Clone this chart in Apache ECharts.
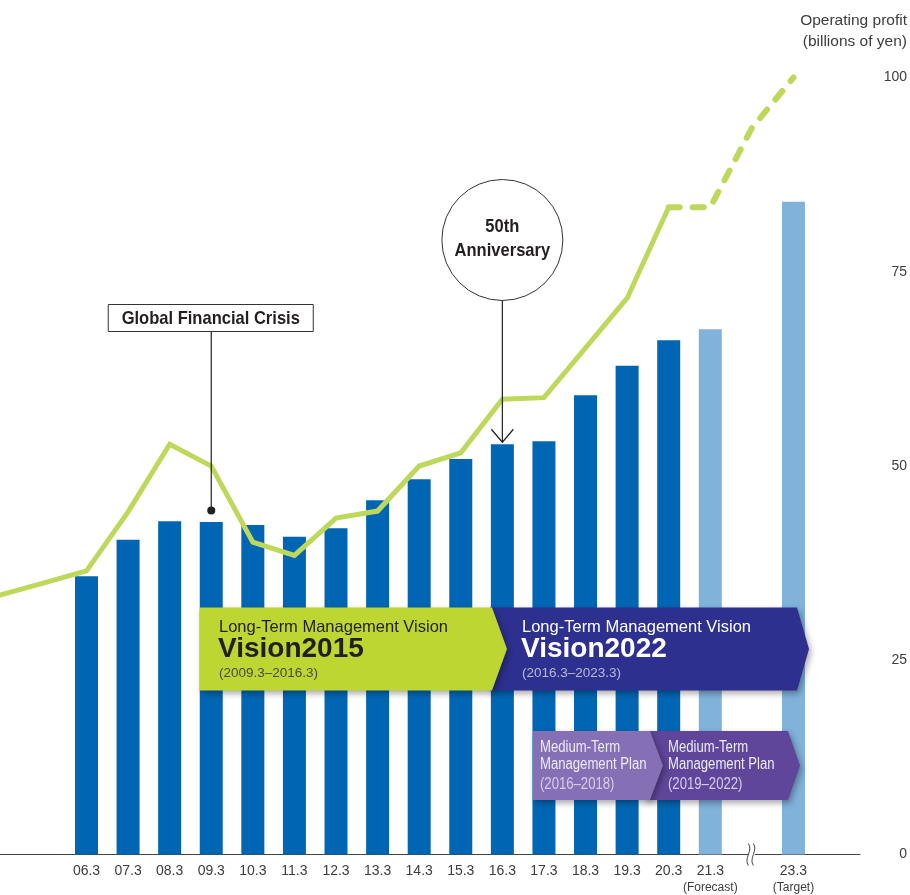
<!DOCTYPE html>
<html>
<head>
<meta charset="utf-8">
<script src="https://cdn.jsdelivr.net/npm/echarts@6/dist/echarts.min.js"></script>
<style>
  html, body { margin: 0; padding: 0; background: #ffffff; }
  #chart { width: 910px; height: 895px; }
</style>
</head>
<body>
<div id="chart"></div>
<script>
// Fiscal years ending in March; 06.3 sits at position 6 on the x axis, 22.3 is skipped
const years = [6, 7, 8, 9, 10, 11, 12, 13, 14, 15, 16, 17, 18, 19, 20, 21, 23];
const yearLabels = ['06.3', '07.3', '08.3', '09.3', '10.3', '11.3', '12.3', '13.3', '14.3',
                    '15.3', '16.3', '17.3', '18.3', '19.3', '20.3', '21.3', '23.3'];
const yearNotes = ['', '', '', '', '', '', '', '', '', '', '', '', '', '', '', '(Forecast)', '(Target)'];

// Operating profit, billions of yen
const operatingProfit = [35.8, 40.5, 42.9, 42.8, 42.4, 40.9, 42.0, 45.6, 48.3,
                         50.9, 52.8, 53.2, 59.1, 62.9, 66.2, 67.6, 84.0];

// Growth trend line (results, then plan toward the 23.3 target)
const trendYears = [3, 4, 5, 6, 7, 8, 9, 10, 11, 12, 13, 14, 15, 16, 17, 18, 19, 20];
const trendResults = [32.0, 33.5, 35.0, 36.5, 44.1, 52.8, 50.0, 40.2, 38.5, 43.3,
                      44.2, 50.0, 51.7, 58.6, 58.8, 65.2, 71.6, 83.3];
const planYears = [20, 21, 22, 23];
const planValues = [83.3, 83.3, 93.5, 100];

const yTicks = [0, 25, 50, 75, 100];

const BLUE = '#0066b3';
const LIGHT_BLUE = '#80b2da';
const LIME = '#bed85c';
const TEXT = '#3d3d3d';
const SANS = '"Liberation Sans", Arial, Helvetica, sans-serif';

const chart = echarts.init(document.getElementById('chart'), null, { renderer: 'canvas' });

const barData = years.map((x, i) => ({
  value: [x, operatingProfit[i]],
  itemStyle: { color: yearNotes[i] ? LIGHT_BLUE : BLUE }
}));

chart.setOption({
  animation: false,
  backgroundColor: '#ffffff',
  grid: { left: 0, right: 50, top: 77.5, bottom: 40.5, containLabel: false },
  xAxis: {
    type: 'value',
    min: 3.92,
    max: 24.6,
    splitLine: { show: false },
    axisTick: { show: false },
    axisLine: { show: true, onZero: false, lineStyle: { color: '#444', width: 1 } },
    axisLabel: {
      customValues: years,
      margin: 8,
      color: TEXT,
      fontFamily: SANS,
      formatter: function (v) {
        const i = years.indexOf(Math.round(v));
        if (i < 0) return '';
        return yearNotes[i]
          ? '{y|' + yearLabels[i] + '}\n{n|' + yearNotes[i] + '}'
          : '{y|' + yearLabels[i] + '}';
      },
      rich: {
        y: { fontSize: 14, lineHeight: 17, color: TEXT, fontFamily: SANS },
        n: { fontSize: 12, lineHeight: 17, color: TEXT, fontFamily: SANS }
      }
    }
  },
  yAxis: {
    type: 'value',
    position: 'right',
    min: yTicks[0],
    max: yTicks[yTicks.length - 1],
    interval: 25,
    splitLine: { show: false },
    axisTick: { show: false },
    axisLine: { show: false },
    axisLabel: {
      align: 'right',
      margin: 47,
      fontSize: 14,
      color: TEXT,
      fontFamily: SANS
    }
  },
  series: [
    {
      name: 'Operating profit',
      type: 'bar',
      data: barData,
      barWidth: 23,
      z: 2
    },
    {
      name: 'Trend',
      type: 'line',
      data: trendYears.map((x, i) => [x, trendResults[i]]),
      symbol: 'none',
      clip: true,
      lineStyle: { color: LIME, width: 5, join: 'miter' },
      z: 3
    },
    {
      name: 'Plan',
      type: 'line',
      data: planYears.map((x, i) => [x, planValues[i]]),
      symbol: 'none',
      clip: false,
      lineStyle: { color: LIME, width: 6, type: [11, 13], cap: 'round', join: 'round' },
      z: 3
    }
  ]
});

// Annotations anchored to axis positions
const px = (x, y) => chart.convertToPixel({ gridIndex: 0 }, [x, y]);
const idx = y => years.indexOf(y);

const crisisTop = px(9, operatingProfit[idx(9)]);
const annivTop = px(16, operatingProfit[idx(16)]);
const breakPt = px(22, 0);

function label(text, x, y, opts) {
  return Object.assign({
    type: 'text',
    x: x,
    y: y,
    z: 30,
    style: Object.assign({
      text: text,
      x: 0,
      y: 0,
      fill: '#231f20',
      fontFamily: SANS,
      fontSize: 16,
      textAlign: 'left',
      textVerticalAlign: 'middle'
    }, opts.style || {})
  }, opts.el || {});
}

const shadow = { shadowBlur: 6, shadowOffsetX: 2, shadowOffsetY: 3, shadowColor: 'rgba(0,0,0,0.35)' };

const graphics = [
  // axis title
  {
    type: 'text', x: 907, y: 10, z: 30,
    style: {
      text: 'Operating profit\n(billions of yen)', fill: TEXT, fontFamily: SANS,
      fontSize: 15.5, lineHeight: 21, textAlign: 'right', textVerticalAlign: 'top'
    }
  },

  // axis break at 22.3
  {
    type: 'rect', z: 25,
    shape: { x: breakPt[0] - 3, y: breakPt[1] - 5, width: 6, height: 10 },
    style: { fill: '#ffffff' }
  },
  {
    type: 'bezierCurve', z: 26,
    shape: { x1: breakPt[0] - 3.5, y1: breakPt[1] - 11, x2: breakPt[0] - 3.5, y2: breakPt[1] + 11,
             cpx1: breakPt[0] + 1.5, cpy1: breakPt[1] - 4, cpx2: breakPt[0] - 8.5, cpy2: breakPt[1] + 4 },
    style: { stroke: '#444', lineWidth: 1, fill: null }
  },
  {
    type: 'bezierCurve', z: 26,
    shape: { x1: breakPt[0] + 1.5, y1: breakPt[1] - 11, x2: breakPt[0] + 1.5, y2: breakPt[1] + 11,
             cpx1: breakPt[0] + 6.5, cpy1: breakPt[1] - 4, cpx2: breakPt[0] - 3.5, cpy2: breakPt[1] + 4 },
    style: { stroke: '#444', lineWidth: 1, fill: null }
  },

  // Global Financial Crisis callout
  {
    type: 'line', z: 28,
    shape: { x1: crisisTop[0], y1: 332, x2: crisisTop[0], y2: crisisTop[1] - 11.5 },
    style: { stroke: '#231f20', lineWidth: 1.2 }
  },
  {
    type: 'circle', z: 29,
    shape: { cx: crisisTop[0], cy: crisisTop[1] - 11.5, r: 4 },
    style: { fill: '#231f20' }
  },
  {
    type: 'rect', z: 28,
    shape: { x: crisisTop[0] - 103, y: 304.5, width: 205, height: 27 },
    style: { fill: '#ffffff', stroke: '#333', lineWidth: 1 }
  },
  label('Global Financial Crisis', crisisTop[0] - 0.5, 318.5, {
    el: { scaleX: 0.87 },
    style: { fontSize: 19, fontWeight: 'bold', textAlign: 'center' }
  }),

  // 50th Anniversary callout
  {
    type: 'circle', z: 28,
    shape: { cx: annivTop[0], cy: 240, r: 60.5 },
    style: { fill: '#ffffff', stroke: '#333', lineWidth: 1 }
  },
  {
    type: 'line', z: 28,
    shape: { x1: annivTop[0], y1: 300.5, x2: annivTop[0], y2: annivTop[1] - 2 },
    style: { stroke: '#231f20', lineWidth: 1.2 }
  },
  {
    type: 'polyline', z: 28,
    shape: { points: [[annivTop[0] - 11, annivTop[1] - 15], [annivTop[0], annivTop[1] - 2], [annivTop[0] + 11, annivTop[1] - 15]] },
    style: { stroke: '#231f20', lineWidth: 1.2, fill: null }
  },
  label('50th', annivTop[0], 227, {
    el: { scaleX: 0.87 },
    style: { fontSize: 19, fontWeight: 'bold', textAlign: 'center' }
  }),
  label('Anniversary', annivTop[0], 251, {
    el: { scaleX: 0.87 },
    style: { fontSize: 19, fontWeight: 'bold', textAlign: 'center' }
  }),

  // Long-term vision banners
  {
    type: 'polygon', z: 20,
    shape: { points: [[490, 607.5], [797, 607.5], [809, 649], [797, 690.5], [490, 690.5]] },
    style: Object.assign({ fill: '#2e3090' }, shadow)
  },
  {
    type: 'polygon', z: 21,
    shape: { points: [[200, 607.5], [492, 607.5], [507, 649], [492, 690.5], [200, 690.5]] },
    style: Object.assign({ fill: '#bed632' }, shadow)
  },
  label('Long-Term Management Vision', 219, 627, { style: { fontSize: 16.5 } }),
  label('Vision2015', 218, 649, { style: { fontSize: 28, fontWeight: 'bold' } }),
  label('(2009.3\u20132016.3)', 219, 673.5, { style: { fontSize: 13.5, fill: '#4b4b3b' } }),
  label('Long-Term Management Vision', 522, 627, { style: { fontSize: 16.5, fill: '#ffffff' } }),
  label('Vision2022', 521, 649, { style: { fontSize: 28, fontWeight: 'bold', fill: '#ffffff' } }),
  label('(2016.3\u20132023.3)', 522, 673.5, { style: { fontSize: 13.5, fill: '#b9b9dd' } }),

  // Medium-term plan banners
  {
    type: 'polygon', z: 20,
    shape: { points: [[645, 731], [788, 731], [800, 765.5], [788, 800], [645, 800]] },
    style: Object.assign({ fill: '#5f469b' }, shadow)
  },
  {
    type: 'polygon', z: 21,
    shape: { points: [[533, 731], [650, 731], [663, 765.5], [650, 800], [533, 800]] },
    style: Object.assign({ fill: '#8670b5' }, shadow)
  },
  label('Medium-Term', 540, 748, { el: { scaleX: 0.82 }, style: { fill: '#eeeaf6' } }),
  label('Management Plan', 540, 764.5, { el: { scaleX: 0.82 }, style: { fill: '#eeeaf6' } }),
  label('(2016\u20132018)', 540, 784.5, { el: { scaleX: 0.82 }, style: { fill: '#d6cdea' } }),
  label('Medium-Term', 668, 748, { el: { scaleX: 0.82 }, style: { fill: '#eeeaf6' } }),
  label('Management Plan', 668, 764.5, { el: { scaleX: 0.82 }, style: { fill: '#eeeaf6' } }),
  label('(2019\u20132022)', 668, 784.5, { el: { scaleX: 0.82 }, style: { fill: '#d6cdea' } })
];

chart.setOption({ graphic: graphics });
</script>
</body>
</html>
